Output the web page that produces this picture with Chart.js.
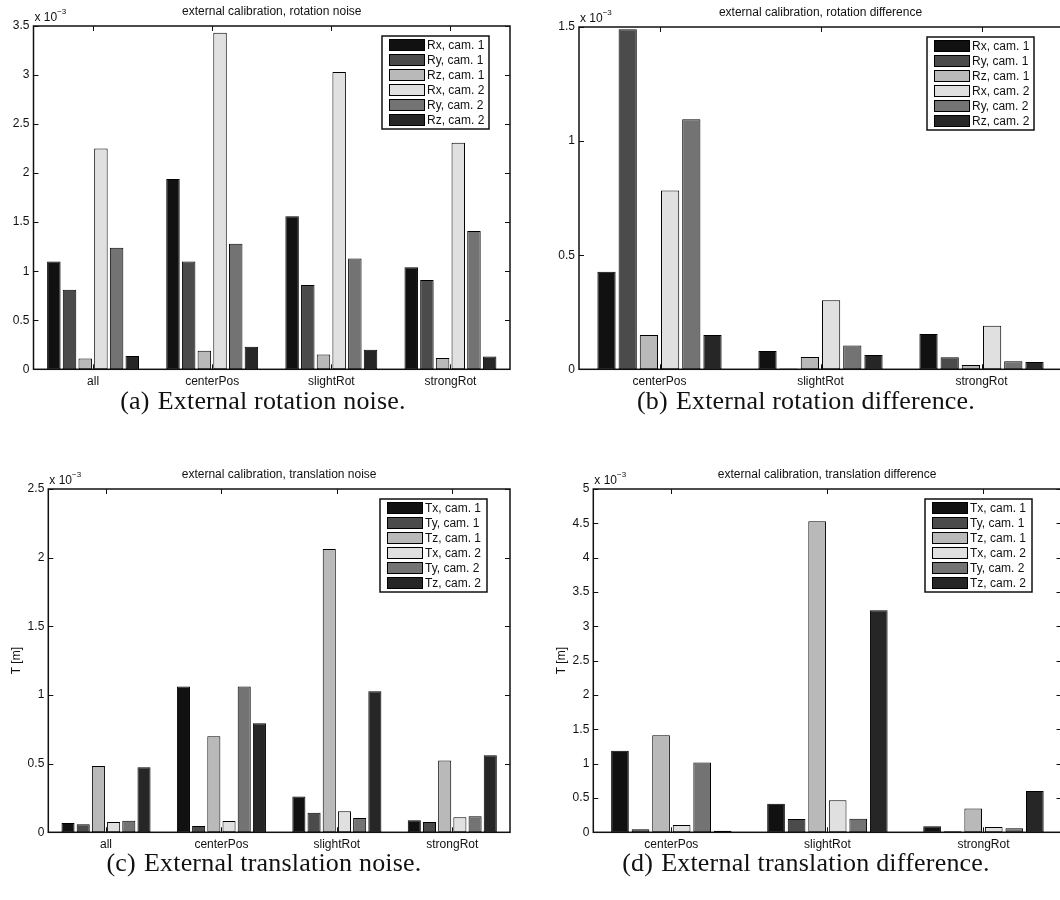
<!DOCTYPE html>
<html>
<head>
<meta charset="utf-8">
<title>External calibration</title>
<script src="https://cdn.jsdelivr.net/npm/chart.js@4.4.1/dist/chart.umd.min.js"></script>
<style>
  html, body { margin: 0; padding: 0; background: #fff; }
  body { width: 1060px; height: 900px; overflow: hidden; position: relative; }
  .panel { position: absolute; }
  .caption {
    position: absolute;
    width: 540px;
    height: 30px;
    line-height: 30px;
    text-align: center;
    white-space: nowrap;
    font-family: "Liberation Serif", "DejaVu Serif", serif;
    font-size: 26px;
    letter-spacing: 0.2px;
    color: #111;
  }
  .caption .tag { margin-right: 8px; }
</style>
</head>
<body>

<div class="panel" style="left:0;top:0;width:530px;height:392px"><canvas id="rotNoiseChart"></canvas></div>
<div class="panel" style="left:530px;top:0;width:540px;height:392px"><canvas id="rotDiffChart"></canvas></div>
<div class="panel" style="left:0;top:440px;width:530px;height:412px"><canvas id="transNoiseChart"></canvas></div>
<div class="panel" style="left:530px;top:440px;width:540px;height:412px"><canvas id="transDiffChart"></canvas></div>

<div class="caption" style="left:-7px;top:386px"><span class="tag">(a)</span>External rotation noise.</div>
<div class="caption" style="left:536px;top:386px"><span class="tag">(b)</span>External rotation difference.</div>
<div class="caption" style="left:-6px;top:848px"><span class="tag">(c)</span>External translation noise.</div>
<div class="caption" style="left:536px;top:848px"><span class="tag">(d)</span>External translation difference.</div>

<script>
// categories
const noiseGroups = ['all', 'centerPos', 'slightRot', 'strongRot'];
const diffGroups = ['centerPos', 'slightRot', 'strongRot'];

// series names
const rotLabels = ['Rx, cam. 1', 'Ry, cam. 1', 'Rz, cam. 1', 'Rx, cam. 2', 'Ry, cam. 2', 'Rz, cam. 2'];
const transLabels = ['Tx, cam. 1', 'Ty, cam. 1', 'Tz, cam. 1', 'Tx, cam. 2', 'Ty, cam. 2', 'Tz, cam. 2'];

// gray colormap, one shade per series
const barColors = ['#111111', '#4b4b4b', '#b9b9b9', '#e0e0e0', '#737373', '#262626'];

// values in units of 1e-3; one row per series, one column per group
const rotNoise = [
    [1.10, 1.94, 1.56, 1.04],
    [0.81, 1.10, 0.86, 0.91],
    [0.11, 0.19, 0.15, 0.115],
    [2.25, 3.43, 3.03, 2.31],
    [1.24, 1.28, 1.13, 1.41],
    [0.135, 0.23, 0.20, 0.13]
];
const rotDiff = [
    [0.428, 0.080, 0.155],
    [1.49, 0.004, 0.053],
    [0.150, 0.054, 0.019],
    [0.784, 0.303, 0.191],
    [1.096, 0.104, 0.035],
    [0.150, 0.063, 0.032]
];
const transNoise = [
    [0.068, 1.061, 0.26, 0.087],
    [0.058, 0.046, 0.143, 0.075],
    [0.483, 0.699, 2.063, 0.522],
    [0.075, 0.083, 0.153, 0.109],
    [0.085, 1.061, 0.104, 0.117],
    [0.473, 0.794, 1.027, 0.561]
];
const transDiff = [
    [1.189, 0.417, 0.087],
    [0.044, 0.194, 0.015],
    [1.413, 4.529, 0.345],
    [0.107, 0.466, 0.078],
    [1.015, 0.199, 0.058],
    [0.024, 3.233, 0.602]
];

const yMaxRotNoise = 3.5;
const yMaxRotDiff = 1.5;
const yMaxTransNoise = 2.5;
const yMaxTransDiff = 5;
const yStep = 0.5;

const FONT = '"Liberation Sans", Arial, Helvetica, sans-serif';
const INK = '#111';

// box, inward ticks, title, exponent, y title and legend
const matlabAxes = {
    id: 'matlabAxes',
    afterDatasetsDraw(chart, args, opts) {
        const ctx = chart.ctx;
        const area = chart.chartArea;
        const xs = chart.scales.x;
        const ys = chart.scales.y;
        const tl = 5;

        ctx.save();
        ctx.strokeStyle = INK;
        ctx.lineWidth = 1.5;
        ctx.strokeRect(area.left, area.top, area.right - area.left, area.bottom - area.top);

        ctx.lineWidth = 1;
        ctx.beginPath();
        xs.ticks.forEach((t, i) => {
            const px = Math.round(xs.getPixelForTick(i)) + 0.5;
            ctx.moveTo(px, area.bottom); ctx.lineTo(px, area.bottom - tl);
            ctx.moveTo(px, area.top); ctx.lineTo(px, area.top + tl);
        });
        ys.ticks.forEach(t => {
            const py = Math.round(ys.getPixelForValue(t.value)) + 0.5;
            ctx.moveTo(area.left, py); ctx.lineTo(area.left + tl, py);
            if (opts.rightTicks !== false) {
                ctx.moveTo(area.right, py); ctx.lineTo(area.right - tl, py);
            }
        });
        ctx.stroke();

        // title
        ctx.fillStyle = INK;
        ctx.font = '12px ' + FONT;
        ctx.textAlign = 'center';
        ctx.textBaseline = 'middle';
        ctx.fillText(opts.title, (area.left + opts.titleRight) / 2, area.top - 14);

        // exponent
        ctx.textAlign = 'left';
        ctx.textBaseline = 'alphabetic';
        ctx.fillText('x 10', area.left + 1, area.top - 5);
        const w = ctx.measureText('x 10').width;
        ctx.font = '8px ' + FONT;
        ctx.fillText('\u22123', area.left + 1 + w, area.top - 12);

        // y axis title
        if (opts.yTitle) {
            ctx.font = '12px ' + FONT;
            ctx.translate(area.left - 32, (area.top + area.bottom) / 2);
            ctx.rotate(-Math.PI / 2);
            ctx.textAlign = 'center';
            ctx.textBaseline = 'middle';
            ctx.fillText(opts.yTitle, 0, 0);
            ctx.setTransform(1, 0, 0, 1, 0, 0);
        }

        // legend
        const rowH = 15;
        const boxW = 107, boxH = 93;
        const bx = opts.legendRight - boxW;
        const by = area.top + 10;
        ctx.fillStyle = '#fff';
        ctx.fillRect(bx, by, boxW, boxH);
        ctx.lineWidth = 1.5;
        ctx.strokeStyle = INK;
        ctx.strokeRect(bx, by, boxW, boxH);
        ctx.font = '12px ' + FONT;
        ctx.textAlign = 'left';
        ctx.textBaseline = 'middle';
        chart.data.datasets.forEach((ds, i) => {
            const cy = by + 9 + i * rowH;
            ctx.fillStyle = ds.backgroundColor;
            ctx.fillRect(bx + 7, cy - 6, 35, 12);
            ctx.lineWidth = 1;
            ctx.strokeStyle = '#000';
            ctx.strokeRect(bx + 7.5, cy - 5.5, 35, 11);
            ctx.fillStyle = INK;
            ctx.fillText(ds.label, bx + 45, cy + 0.5);
        });
        ctx.restore();
    }
};

function buildChart(canvasId, groups, names, values, yMax, layout) {
    const datasets = values.map((row, i) => ({
        label: names[i],
        data: row,
        backgroundColor: barColors[i],
        borderColor: '#000',
        borderWidth: 1,
        borderSkipped: false,
        categoryPercentage: 0.79,
        barPercentage: 0.86
    }));

    return new Chart(document.getElementById(canvasId), {
        type: 'bar',
        data: { labels: groups, datasets: datasets },
        options: {
            responsive: true,
            maintainAspectRatio: false,
            animation: false,
            layout: { padding: { top: layout.top, right: layout.right, left: 0, bottom: 0 } },
            plugins: {
                legend: { display: false },
                tooltip: { enabled: false },
                matlabAxes: layout.axes
            },
            scales: {
                x: {
                    grid: { display: false, drawTicks: false },
                    border: { display: false },
                    ticks: { color: INK, font: { family: FONT, size: 12 }, padding: 5, maxRotation: 0 },
                    afterFit: s => { s.height = layout.xHeight; }
                },
                y: {
                    min: 0,
                    max: yMax,
                    grid: { display: false, drawTicks: false },
                    border: { display: false },
                    ticks: {
                        stepSize: yStep,
                        color: INK,
                        padding: 4,
                        font: { family: FONT, size: 12 },
                        callback: v => String(Math.round(v * 10) / 10)
                    },
                    afterFit: s => { s.width = layout.yWidth; }
                }
            }
        },
        plugins: [matlabAxes]
    });
}

document.addEventListener('DOMContentLoaded', function() {
    buildChart('rotNoiseChart', noiseGroups, rotLabels, rotNoise, yMaxRotNoise, {
        top: 26, right: 20, yWidth: 33.5, xHeight: 22.7,
        axes: { title: 'external calibration, rotation noise', titleRight: 510, legendRight: 489 }
    });
    // right edge of this axes box sits just outside the page
    buildChart('rotDiffChart', diffGroups, rotLabels, rotDiff, yMaxRotDiff, {
        top: 27, right: 8, yWidth: 49, xHeight: 22.7,
        axes: { title: 'external calibration, rotation difference', titleRight: 1062 - 530, legendRight: 1034 - 530, rightTicks: false }
    });
    buildChart('transNoiseChart', noiseGroups, transLabels, transNoise, yMaxTransNoise, {
        top: 49, right: 20, yWidth: 48.3, xHeight: 19.7,
        axes: { title: 'external calibration, translation noise', titleRight: 510, legendRight: 487, yTitle: 'T [m]' }
    });
    buildChart('transDiffChart', diffGroups, transLabels, transDiff, yMaxTransDiff, {
        top: 49, right: 8.5, yWidth: 63.3, xHeight: 19.7,
        axes: { title: 'external calibration, translation difference', titleRight: 1061 - 530, legendRight: 1032 - 530, yTitle: 'T [m]' }
    });
});
</script>
</body>
</html>
